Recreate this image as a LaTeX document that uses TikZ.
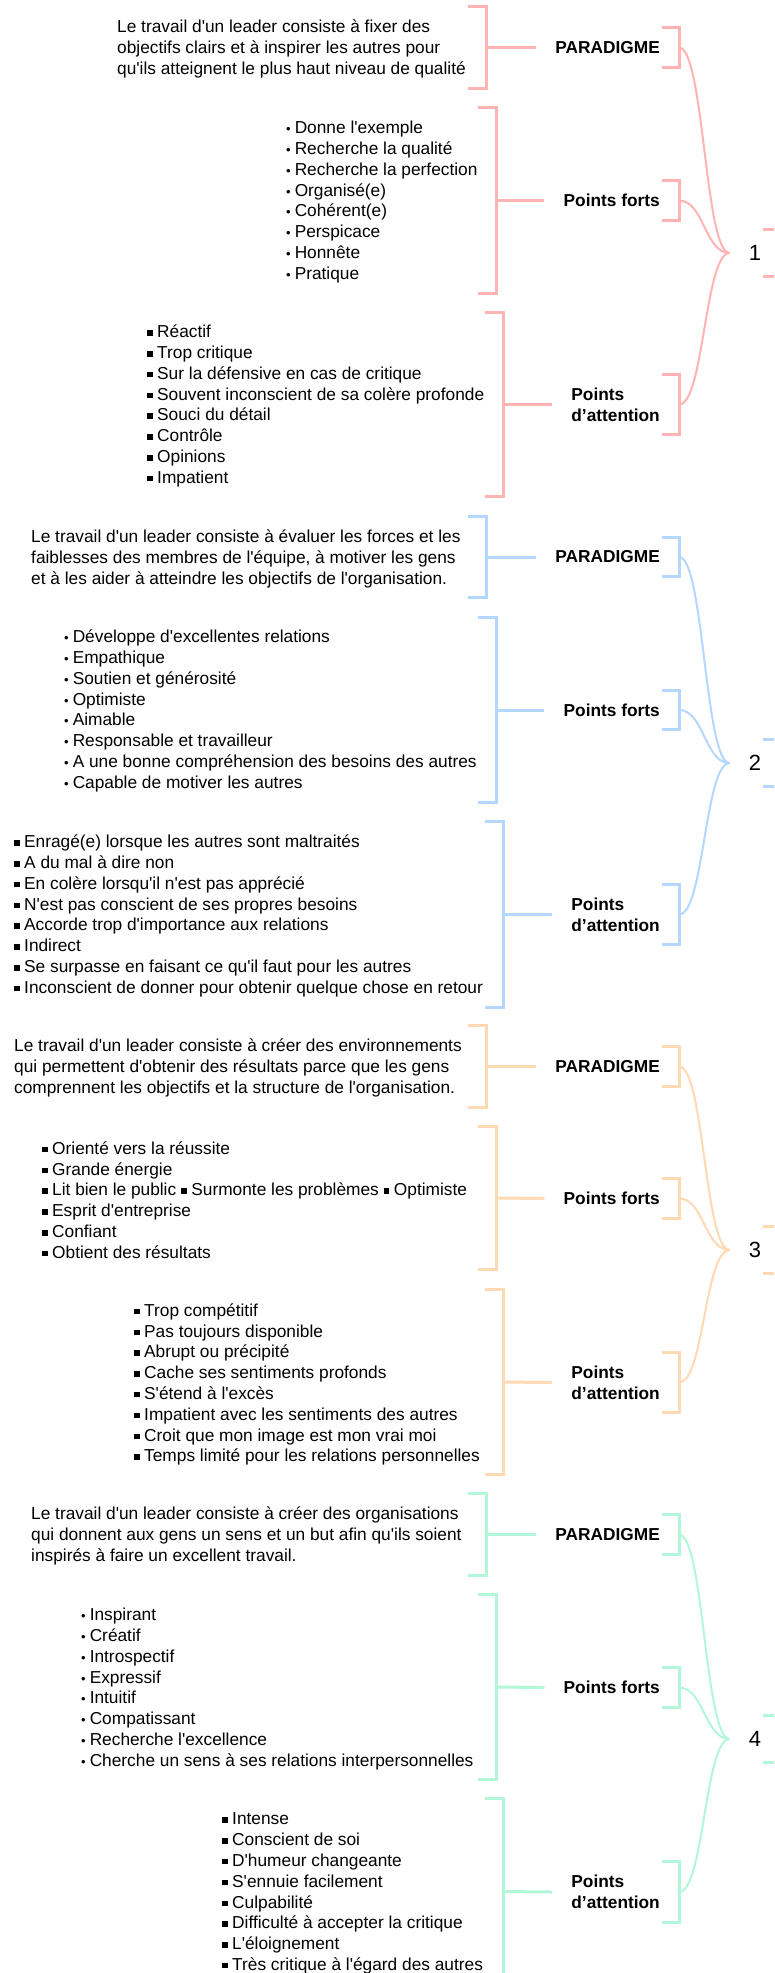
\documentclass[tikz,border=0pt]{standalone}
\usepackage{fontspec}
\newfontfamily\lsans{Liberation Sans}
\usetikzlibrary{calc}
\definecolor{cpink}{HTML}{FFB3B3}
\definecolor{cblue}{HTML}{B3D7FF}
\definecolor{corange}{HTML}{FFD9B3}
\definecolor{cgreen}{HTML}{B3F7D9}
\newcommand\bu{{\fontsize{13}{13}\selectfont •}\hspace{4pt}}
\newcommand\sqr{\rule[2pt]{5.5pt}{5.5pt}}
\newcommand\sq{\sqr\hspace{4.5pt}}
\newcommand\mkTB[2]{\draw[brk,#2] (#1.north west) -- (#1.north east) -- (#1.south east) -- (#1.south west);}
\newcommand\mkLB[2]{\draw[brk,#2] ([xshift=-17pt]#1.north east) -- (#1.north east) -- (#1.south east) -- ([xshift=-17pt]#1.south east);}
\newcommand\mkNB[2]{\draw[brk,#2] ([xshift=8pt]#1.north) -- ([xshift=25pt]#1.north) -- ([xshift=25pt]#1.south) -- ([xshift=8pt]#1.south);}
\begin{document}
\begin{tikzpicture}[x=1pt,y=-1pt,
  txt/.style={font=\lsans\fontsize{17.3}{20.8}\selectfont, align=left, anchor=west, inner sep=0pt},
  lbl/.style={font=\lsans\bfseries\fontsize{17.3}{20.8}\selectfont, align=left, anchor=east, inner xsep=19pt, inner ysep=0pt, minimum height=39pt},
  lbltwo/.style={lbl, minimum height=60pt},
  num/.style={font=\lsans\fontsize{22}{26}\selectfont, inner xsep=19pt, inner ysep=0pt, minimum height=47pt},
  tb/.style={minimum width=18pt, minimum height=#1, inner sep=0pt, anchor=east},
  brk/.style={line width=3pt},
  cv/.style={line width=2pt}]
\useasboundingbox (0,0) rectangle (774,1973);
\fill[white] (0,0) rectangle (774,1973);
\clip (0,0) rectangle (774,1973);

% ---------------- Group 1 ----------------
\node[txt] (g1pt) at (117,49) {Le travail d'un leader consiste à fixer des\\objectifs clairs et à inspirer les autres pour\\qu'ils atteignent le plus haut niveau de qualité};
\node[txt] (g1ft) at (286,202) {\bu Donne l'exemple\\\bu Recherche la qualité\\\bu Recherche la perfection\\\bu Organisé(e)\\\bu Cohérent(e)\\\bu Perspicace\\\bu Honnête\\\bu Pratique};
\node[txt] (g1at) at (147,406) {\sq Réactif\\\sq Trop critique\\\sq Sur la défensive en cas de critique\\\sq Souvent inconscient de sa colère profonde\\\sq Souci du détail\\\sq Contrôle\\\sq Opinions\\\sq Impatient};
\node[tb=81pt] (g1pb) at (486,47.5) {};
\node[tb=185pt] (g1fb) at (496.5,200.5) {};
\node[tb=183pt] (g1ab) at (503,404.5) {};
\node[lbl] (g1pl) at (679,47.5) {PARADIGME};
\node[lbl] (g1fl) at (679,200.5) {Points forts};
\node[lbltwo] (g1al) at (679,404.5) {Points\\d’attention};
\node[num] (n1) at (755,253) {1};
\mkTB{g1pb}{cpink}\mkTB{g1fb}{cpink}\mkTB{g1ab}{cpink}
\mkLB{g1pl}{cpink}\mkLB{g1fl}{cpink}\mkLB{g1al}{cpink}
\mkNB{n1}{cpink}
\draw[brk,cpink] (g1pb.east) -- (g1pl.west);
\draw[brk,cpink] (g1fb.east) -- (g1fl.west);
\draw[brk,cpink] (g1ab.east) -- (g1al.west);
\draw[cv,cpink] (g1pl.east) .. controls ([xshift=25pt]g1pl.east) and ([xshift=-25pt]n1.west) .. (n1.west);
\draw[cv,cpink] (g1fl.east) .. controls ([xshift=25pt]g1fl.east) and ([xshift=-25pt]n1.west) .. (n1.west);
\draw[cv,cpink] (g1al.east) .. controls ([xshift=25pt]g1al.east) and ([xshift=-25pt]n1.west) .. (n1.west);

% ---------------- Group 2 ----------------
\node[txt] (g2pt) at (31,559) {Le travail d'un leader consiste à évaluer les forces et les\\faiblesses des membres de l'équipe, à motiver les gens\\et à les aider à atteindre les objectifs de l'organisation.};
\node[txt] (g2ft) at (64,711) {\bu Développe d'excellentes relations\\\bu Empathique\\\bu Soutien et générosité\\\bu Optimiste\\\bu Aimable\\\bu Responsable et travailleur\\\bu A une bonne compréhension des besoins des autres\\\bu Capable de motiver les autres};
\node[txt] (g2at) at (14,916) {\sq Enragé(e) lorsque les autres sont maltraités\\\sq A du mal à dire non\\\sq En colère lorsqu'il n'est pas apprécié\\\sq N'est pas conscient de ses propres besoins\\\sq Accorde trop d'importance aux relations\\\sq Indirect\\\sq Se surpasse en faisant ce qu'il faut pour les autres\\\sq Inconscient de donner pour obtenir quelque chose en retour};
\node[tb=80pt] (g2pb) at (486,557) {};
\node[tb=184pt] (g2fb) at (496.5,710) {};
\node[tb=185pt] (g2ab) at (503,914.5) {};
\node[lbl] (g2pl) at (679,557) {PARADIGME};
\node[lbl] (g2fl) at (679,710) {Points forts};
\node[lbltwo] (g2al) at (679,914.5) {Points\\d’attention};
\node[num] (n2) at (755,763) {2};
\mkTB{g2pb}{cblue}\mkTB{g2fb}{cblue}\mkTB{g2ab}{cblue}
\mkLB{g2pl}{cblue}\mkLB{g2fl}{cblue}\mkLB{g2al}{cblue}
\mkNB{n2}{cblue}
\draw[brk,cblue] (g2pb.east) -- (g2pl.west);
\draw[brk,cblue] (g2fb.east) -- (g2fl.west);
\draw[brk,cblue] (g2ab.east) -- (g2al.west);
\draw[cv,cblue] (g2pl.east) .. controls ([xshift=25pt]g2pl.east) and ([xshift=-25pt]n2.west) .. (n2.west);
\draw[cv,cblue] (g2fl.east) .. controls ([xshift=25pt]g2fl.east) and ([xshift=-25pt]n2.west) .. (n2.west);
\draw[cv,cblue] (g2al.east) .. controls ([xshift=25pt]g2al.east) and ([xshift=-25pt]n2.west) .. (n2.west);

% ---------------- Group 3 ----------------
\node[txt] (g3pt) at (14,1068) {Le travail d'un leader consiste à créer des environnements\\qui permettent d'obtenir des résultats parce que les gens\\comprennent les objectifs et la structure de l'organisation.};
\node[txt] (g3ft) at (42,1200) {\sq Orienté vers la réussite\\\sq Grande énergie\\\sq Lit bien le public \sqr{} Surmonte les problèmes \sqr{} Optimiste\\\sq Esprit d'entreprise\\\sq Confiant\\\sq Obtient des résultats};
\node[txt] (g3at) at (134,1384.5) {\sq Trop compétitif\\\sq Pas toujours disponible\\\sq Abrupt ou précipité\\\sq Cache ses sentiments profonds\\\sq S'étend à l'excès\\\sq Impatient avec les sentiments des autres\\\sq Croit que mon image est mon vrai moi\\\sq Temps limité pour les relations personnelles};
\node[tb=81pt] (g3pb) at (486,1066.5) {};
\node[tb=142pt] (g3fb) at (496.5,1198) {};
\node[tb=184pt] (g3ab) at (503,1382) {};
\node[lbl] (g3pl) at (679,1066.5) {PARADIGME};
\node[lbl] (g3fl) at (679,1198.5) {Points forts};
\node[lbltwo] (g3al) at (679,1382.5) {Points\\d’attention};
\node[num] (n3) at (755,1250) {3};
\mkTB{g3pb}{corange}\mkTB{g3fb}{corange}\mkTB{g3ab}{corange}
\mkLB{g3pl}{corange}\mkLB{g3fl}{corange}\mkLB{g3al}{corange}
\mkNB{n3}{corange}
\draw[brk,corange] (g3pb.east) -- (g3pl.west);
\draw[brk,corange] (g3fb.east) -- (g3fl.west);
\draw[brk,corange] (g3ab.east) -- (g3al.west);
\draw[cv,corange] (g3pl.east) .. controls ([xshift=25pt]g3pl.east) and ([xshift=-25pt]n3.west) .. (n3.west);
\draw[cv,corange] (g3fl.east) .. controls ([xshift=25pt]g3fl.east) and ([xshift=-25pt]n3.west) .. (n3.west);
\draw[cv,corange] (g3al.east) .. controls ([xshift=25pt]g3al.east) and ([xshift=-25pt]n3.west) .. (n3.west);

% ---------------- Group 4 ----------------
\node[txt] (g4pt) at (31,1536) {Le travail d'un leader consiste à créer des organisations\\qui donnent aux gens un sens et un but afin qu'ils soient\\inspirés à faire un excellent travail.};
\node[txt] (g4ft) at (81,1689) {\bu Inspirant\\\bu Créatif\\\bu Introspectif\\\bu Expressif\\\bu Intuitif\\\bu Compatissant\\\bu Recherche l'excellence\\\bu Cherche un sens à ses relations interpersonnelles};
\node[txt] (g4at) at (222,1893.5) {\sq Intense\\\sq Conscient de soi\\\sq D'humeur changeante\\\sq S'ennuie facilement\\\sq Culpabilité\\\sq Difficulté à accepter la critique\\\sq L'éloignement\\\sq Très critique à l'égard des autres};
\node[tb=81pt] (g4pb) at (486,1534.5) {};
\node[tb=184pt] (g4fb) at (496.5,1687) {};
\node[tb=185pt] (g4ab) at (503,1891.5) {};
\node[lbl] (g4pl) at (679,1534.5) {PARADIGME};
\node[lbl] (g4fl) at (679,1687.5) {Points forts};
\node[lbltwo] (g4al) at (679,1892) {Points\\d’attention};
\node[num] (n4) at (755,1739) {4};
\mkTB{g4pb}{cgreen}\mkTB{g4fb}{cgreen}\mkTB{g4ab}{cgreen}
\mkLB{g4pl}{cgreen}\mkLB{g4fl}{cgreen}\mkLB{g4al}{cgreen}
\mkNB{n4}{cgreen}
\draw[brk,cgreen] (g4pb.east) -- (g4pl.west);
\draw[brk,cgreen] (g4fb.east) -- (g4fl.west);
\draw[brk,cgreen] (g4ab.east) -- (g4al.west);
\draw[cv,cgreen] (g4pl.east) .. controls ([xshift=25pt]g4pl.east) and ([xshift=-25pt]n4.west) .. (n4.west);
\draw[cv,cgreen] (g4fl.east) .. controls ([xshift=25pt]g4fl.east) and ([xshift=-25pt]n4.west) .. (n4.west);
\draw[cv,cgreen] (g4al.east) .. controls ([xshift=25pt]g4al.east) and ([xshift=-25pt]n4.west) .. (n4.west);
\end{tikzpicture}
\end{document}
